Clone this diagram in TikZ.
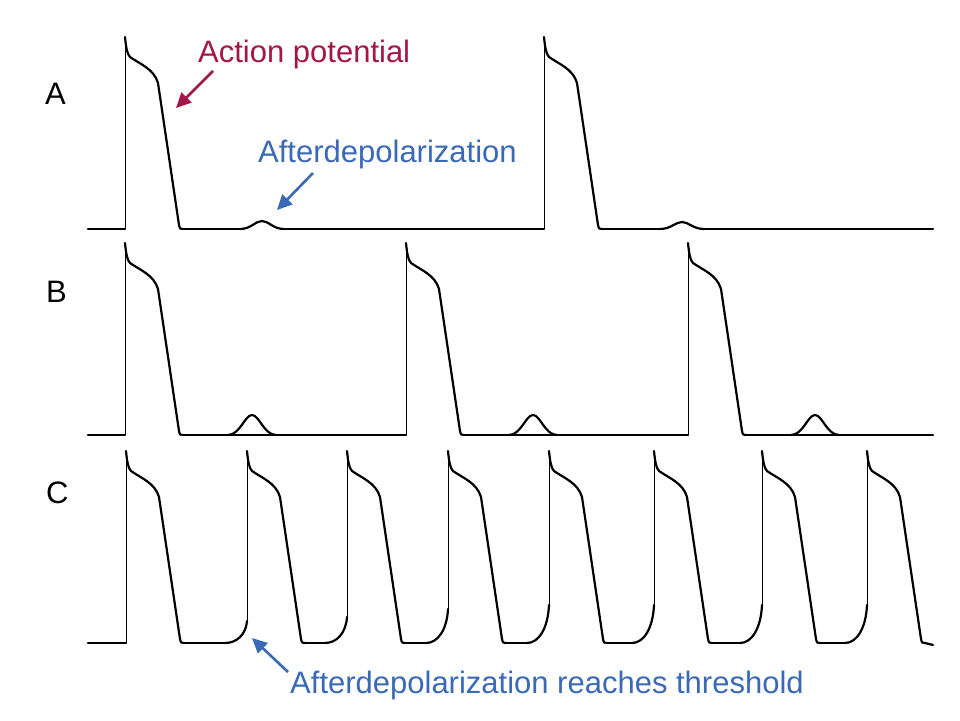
\documentclass[tikz,border=0pt]{standalone}
\usepackage{fontspec}
\setmainfont{Liberation Sans}
\usepackage{tikz}
\usetikzlibrary{arrows.meta, positioning}
\definecolor{apred}{RGB}{165,22,72}
\definecolor{adblue}{RGB}{58,106,182}
\tikzstyle{trace} = [draw, line width=2.2pt, line join=round, line cap=round]
\tikzstyle{upline} = [draw, line width=1pt]
\tikzstyle{panel} = [font=\fontsize{31}{35}\selectfont, anchor=base west, inner sep=0pt]
\tikzstyle{callout} = [font=\fontsize{31}{35}\selectfont, anchor=base west, inner sep=0pt]
\tikzstyle{pointer} = [draw, line width=2.6pt, -{Triangle[length=15pt, width=14pt]}]
% one action potential: upstroke at x=#1, baseline y=#2, foot height #3
\newcommand{\apwave}[3]{%
  \path [upline] (#1,#2-#3) -- (#1,#2-192);
  \path [trace] (#1,#2-192) .. controls (#1+1,#2-182) and (#1+2,#2-175) .. (#1+5,#2-172)
    .. controls (#1+15,#2-165) and (#1+29,#2-160) .. (#1+33,#2-146)
    -- (#1+54,#2-4) .. controls (#1+55,#2) .. (#1+58,#2);
}
% small afterdepolarization bump: peak x=#1, baseline y=#2, height #3, half width #4
\newcommand{\adbump}[4]{%
  \path [trace] (#1-#4,#2) .. controls (#1-#4*0.5,#2) and (#1-#4*0.3,#2-#3) .. (#1,#2-#3)
    .. controls (#1+#4*0.3,#2-#3) and (#1+#4*0.5,#2) .. (#1+#4,#2);
}
% rise of the foot before an upstroke at x=#1, baseline y=#2, height #3
\newcommand{\adrise}[3]{%
  \path [trace] (#1-22,#2) .. controls (#1-10,#2) and (#1-1,#2-#3*0.4) .. (#1,#2-#3);
}

\begin{document}
\begin{tikzpicture}[x=1pt, y=-1pt]
	\useasboundingbox (0,0) rectangle (960,720);

	% panel letters
	\node [panel] (A) at (45,104) {A};
	\node [panel] (B) at (46,302) {B};
	\node [panel] (C) at (46,503) {C};

	% panel A
	\path [trace] (88,229) -- (125,229);
	\path [trace] (183,229) -- (241,229);
	\path [trace] (285,229) -- (544,229);
	\path [trace] (602,229) -- (660,229);
	\path [trace] (704,229) -- (933,229);
	\apwave{125}{229}{0}
	\apwave{544}{229}{0}
	\adbump{262}{229}{8}{22}
	\adbump{682}{229}{7}{22}

	% panel B
	\path [trace] (88,435) -- (125,435);
	\path [trace] (183,435) -- (406,435);
	\path [trace] (464,435) -- (688,435);
	\path [trace] (746,435) -- (933,435);
	\apwave{125}{435}{0}
	\apwave{406}{435}{0}
	\apwave{688}{435}{0}
	\adbump{252}{435}{20}{24}
	\adbump{533}{435}{20}{24}
	\adbump{815}{435}{20}{24}

	% panel C
	\path [trace] (88,643) -- (126,643);
	\apwave{126}{643}{0}
	\path [trace] (184,643) -- (225,643);
	\adrise{247}{643}{22}
	\apwave{247}{643}{22}
	\path [trace] (305,643) -- (325,643);
	\adrise{347}{643}{26}
	\apwave{347}{643}{26}
	\path [trace] (405,643) -- (426,643);
	\adrise{448}{643}{34}
	\apwave{448}{643}{34}
	\path [trace] (506,643) -- (527,643);
	\adrise{549}{643}{38}
	\apwave{549}{643}{38}
	\path [trace] (607,643) -- (632,643);
	\adrise{654}{643}{38}
	\apwave{654}{643}{38}
	\path [trace] (712,643) -- (740,643);
	\adrise{762}{643}{38}
	\apwave{762}{643}{38}
	\path [trace] (820,643) -- (845,643);
	\adrise{867}{643}{38}
	\apwave{867}{643}{38}
	\path [trace] (925,643) -- (933,645);

	% labels and pointers
	\node [callout, text=apred] (actpot) at (198,62) {Action potential};
	\node [callout, text=adblue] (adA) at (258,162) {Afterdepolarization};
	\node [callout, text=adblue] (adC) at (290,693) {Afterdepolarization reaches threshold};
	\coordinate (aptail) at (213,71);
	\coordinate (aphead) at (176,108);
	\coordinate (adAtail) at (313,173);
	\coordinate (adAhead) at (277,210);
	\coordinate (adCtail) at (288,672);
	\coordinate (adChead) at (252,638);
	\path [pointer, apred] (aptail) -- (aphead);
	\path [pointer, adblue] (adAtail) -- (adAhead);
	\path [pointer, adblue] (adCtail) -- (adChead);
\end{tikzpicture}
\end{document}
